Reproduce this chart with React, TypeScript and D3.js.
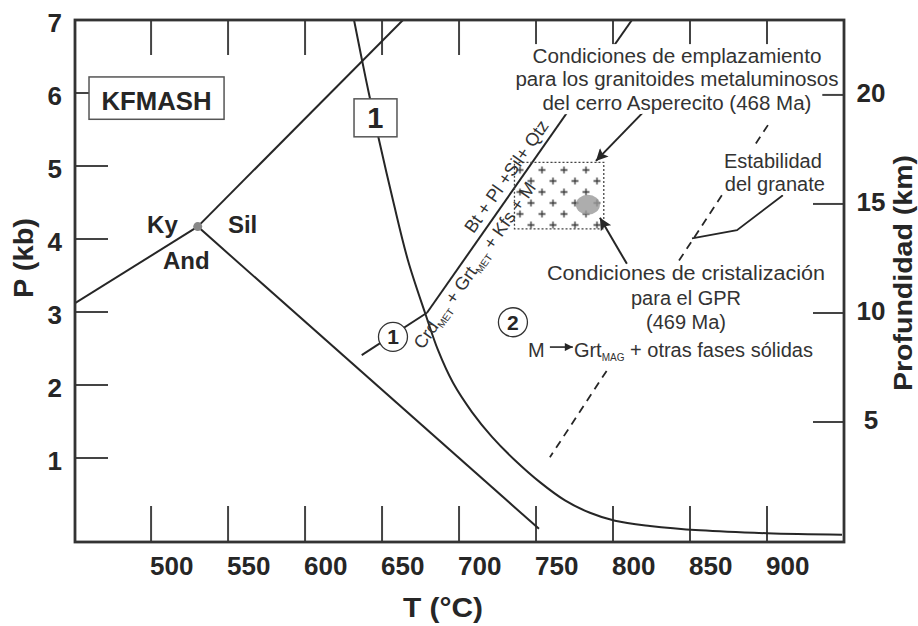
import * as d3 from 'd3';
import * as React from 'react';

// axis ticks
const tempTicks = [500, 550, 600, 650, 700, 750, 800, 850, 900];
const pressureTicks = [1, 2, 3, 4, 5, 6];
const pressureLabels = [1, 2, 3, 4, 5, 6, 7];
const depthTicks = [5, 10, 15, 20];
const kmPerKb = 3.348;

// [T (°C), P (kb)]
const curveOne: [number, number][] = [
  [631.8, 7.0], [639.6, 6.18], [648.0, 5.36], [657.1, 4.53], [666.8, 3.71],
  [677.9, 2.99], [686.3, 2.48], [696.1, 2.03], [708.4, 1.63], [721.4, 1.29],
  [736.3, 0.97], [752.5, 0.67], [768.8, 0.42], [785.0, 0.25], [801.3, 0.14],
  [824.0, 0.07], [856.5, 0.01], [900.0, -0.03], [948.7, -0.05],
];
const triplePoint: [number, number] = [530.3, 4.17];
const kySil: [number, number][] = [triplePoint, [663.6, 7.0]];
const kyAnd: [number, number][] = [[450.6, 3.12], triplePoint];
const andSil: [number, number][] = [triplePoint, [751.9, 0.03]];
const reactionLow: [number, number][] = [[636.8, 2.41], [679.2, 2.99]];
const reactionHigh: [number, number][] = [[679.2, 2.99], [812.3, 7.0]];
const garnetDashed: [number, number][] = [[900.6, 5.56], [759.0, 1.01]];
const garnetSolid: [number, number][] = [[910.3, 4.6], [880.5, 4.12], [851.3, 4.01]];
const emplacementT = [736, 794];
const emplacementP = [4.14, 5.05];
const gprPoint: [number, number] = [783.7, 4.47];

const W = 918;
const H = 626;
const FONT = '"Liberation Sans", Arial, Helvetica, sans-serif';
const INK = '#262626';

const x = d3.scaleLinear().domain([450.6, 950]).range([75, 844]);
const y = d3.scaleLinear().domain([-0.15, 7]).range([542, 20]);
const yKm = d3.scaleLinear().domain([-0.15 * kmPerKb, 7 * kmPerKb]).range([542, 20]);

const line = d3.line<[number, number]>().x(d => x(d[0])).y(d => y(d[1]));
const smooth = d3.line<[number, number]>().x(d => x(d[0])).y(d => y(d[1])).curve(d3.curveCatmullRom.alpha(0.5));

const halo: React.CSSProperties = { paintOrder: 'stroke', stroke: '#fff', strokeWidth: 8, strokeLinejoin: 'round' };

function alongLine(seg: [number, number][], t: number) {
  const x1 = x(seg[0][0]), y1 = y(seg[0][1]), x2 = x(seg[1][0]), y2 = y(seg[1][1]);
  return {
    px: x1 + (x2 - x1) * t,
    py: y1 + (y2 - y1) * t,
    angle: (Math.atan2(y2 - y1, x2 - x1) * 180) / Math.PI,
  };
}

export default function App() {
  const [x0, x1] = x.range();
  const [y0, y1] = y.range();
  const labA = alongLine(reactionHigh, 0.44);
  const labB = alongLine(reactionHigh, 0.185);
  const txt = { fontFamily: FONT, fill: '#333', fontSize: 20 } as const;
  const fit = 'spacingAndGlyphs';

  return (
    <svg width={W} height={H} style={{ position: 'absolute', left: 0, top: 0, background: '#fff' }}>
      <defs>
        <clipPath id="plot">
          <rect x={x0} y={y1} width={x1 - x0} height={y0 - y1} />
        </clipPath>
        <pattern id="plus" patternUnits="userSpaceOnUse" width={22} height={22} x={536.5} y={164.5}>
          <path d="M2,5.5h7M5.5,2v7M13,16.5h7M16.5,13v7" stroke="#333" strokeWidth={1.3} />
        </pattern>
        <marker id="head" viewBox="0 0 10 10" refX={10} refY={5} markerUnits="userSpaceOnUse"
          markerWidth={19} markerHeight={12} orient="auto">
          <path d="M0,0L10,5L0,10L2,5z" fill={INK} />
        </marker>
        <marker id="headSmall" viewBox="0 0 10 10" refX={10} refY={5} markerUnits="userSpaceOnUse"
          markerWidth={11} markerHeight={8} orient="auto">
          <path d="M0,0L10,5L0,10z" fill={INK} />
        </marker>
      </defs>

      {/* ticks */}
      <g stroke="#444" strokeWidth={2}>
        {tempTicks.map(t => (
          <g key={t}>
            <line x1={x(t)} x2={x(t)} y1={y0} y2={y0 - 36} />
            <line x1={x(t)} x2={x(t)} y1={y1} y2={y1 + 35} />
          </g>
        ))}
        {pressureTicks.map(p => (
          <line key={p} x1={x0} x2={x0 + 33} y1={y(p)} y2={y(p)} />
        ))}
        {depthTicks.map(k => (
          <line key={k} x1={x1} x2={x1 - 31} y1={yKm(k)} y2={yKm(k)} />
        ))}
      </g>

      {/* phase boundaries */}
      <g clipPath="url(#plot)" fill="none" stroke={INK} strokeWidth={2}>
        <path d={line(kySil)!} />
        <path d={line(kyAnd)!} />
        <path d={line(andSil)!} />
        <path d={smooth(curveOne)!} />
        <path d={line(reactionLow)!} />
        <path d={line(reactionHigh)!} />
        <path d={line(garnetDashed)!} strokeDasharray="8,6" strokeWidth={1.8} />
        <path d={line(garnetSolid)!} strokeWidth={1.8} />
      </g>

      {/* white areas behind the annotation blocks */}
      <g fill="#fff">
        <rect x={x(736.3)} y={y(6.67)} width={x(935.9) - x(736.3)} height={y(5.71) - y(6.67)} />
        <rect x={x(869.4)} y={y(5.26)} width={x(939.6) - x(869.4)} height={y(4.62) - y(5.26)} />
        <rect x={x(785)} y={y(3.68)} width={x(856.4) - x(785)} height={y(2.21) - y(3.68)} />
      </g>

      {/* emplacement conditions */}
      <rect x={x(emplacementT[0])} y={y(emplacementP[1])}
        width={x(emplacementT[1]) - x(emplacementT[0])} height={y(emplacementP[0]) - y(emplacementP[1])}
        fill="url(#plus)" stroke="#444" strokeWidth={1.3} strokeDasharray="2,2" />
      <ellipse cx={x(gprPoint[0])} cy={y(gprPoint[1])} rx={12} ry={10} fill="#999" opacity={0.8} />
      <circle cx={x(triplePoint[0])} cy={y(triplePoint[1])} r={4.5} fill="#888" />

      {/* arrows */}
      <g stroke={INK} strokeWidth={2}>
        <line x1={x(822)} y1={y(5.79)} x2={x(788.9)} y2={y(5.07)} markerEnd="url(#head)" />
        <line x1={x(809)} y1={y(3.66)} x2={x(791.5)} y2={y(4.29)} markerEnd="url(#head)" />
        <line x1={x(759)} y1={y(2.52)} x2={x(773.9)} y2={y(2.52)} strokeWidth={1.6} markerEnd="url(#headSmall)" />
      </g>

      {/* reaction labels along the line */}
      <g transform={`translate(${labA.px},${labA.py}) rotate(${labA.angle})`}>
        <text y={-7} textAnchor="middle" {...txt} fontSize={18}>Bt + Pl +Sil+ Qtz</text>
      </g>
      <g transform={`translate(${labB.px},${labB.py}) rotate(${labB.angle})`}>
        <text y={18} textAnchor="middle" {...txt} fontSize={18}>
          Crd<tspan fontSize={10} dy={4}>MET</tspan>
          <tspan dy={-4}> + Grt</tspan><tspan fontSize={10} dy={4}>MET</tspan>
          <tspan dy={-4}> + Kfs + M</tspan>
        </text>
      </g>

      {/* numbered fields */}
      {[
        { n: '1', t: 657.1, p: 2.66 },
        { n: '2', t: 735.0, p: 2.86 },
      ].map(c => (
        <g key={c.n}>
          <circle cx={x(c.t)} cy={y(c.p)} r={14.5} fill="#fff" stroke="#333" strokeWidth={1.3} />
          <text x={x(c.t)} y={y(c.p) + 7.5} textAnchor="middle" fontFamily={FONT} fontWeight="bold"
            fontSize={21} fill={INK}>{c.n}</text>
        </g>
      ))}
      <rect x={x(631.8)} y={y(5.92)} width={x(659.7) - x(631.8)} height={y(5.4) - y(5.92)}
        fill="#fff" stroke="#555" strokeWidth={1.5} />
      <text x={x(645.7)} y={y(5.52)} textAnchor="middle" fontFamily={FONT} fontWeight="bold"
        fontSize={29} fill={INK}>1</text>

      <rect x={x(459.7)} y={y(6.22)} width={x(547.4) - x(459.7)} height={y(5.64) - y(6.22)}
        fill="#fff" stroke="#555" strokeWidth={1.5} />
      <text x={x(503.5)} y={y(5.77)} textAnchor="middle" fontFamily={FONT} fontWeight="bold"
        fontSize={25} textLength={110} lengthAdjust={fit} fill={INK}>KFMASH</text>

      <g fontFamily={FONT} fontWeight="bold" fontSize={24} fill={INK}>
        <text x={x(497.4)} y={y(4.08)}>Ky</text>
        <text x={x(549.9)} y={y(4.08)}>Sil</text>
        <text x={x(507.7)} y={y(3.59)}>And</text>
      </g>

      {/* text blocks */}
      <g {...txt} textAnchor="middle" style={halo}>
        <text x={x(841.5)} y={y(6.41)} textLength={289} lengthAdjust={fit}>Condiciones de emplazamiento</text>
        <text x={x(841.5)} y={y(6.1)} textLength={323} lengthAdjust={fit}>para los granitoides metaluminosos</text>
        <text x={x(841.5)} y={y(5.77)} textLength={269} lengthAdjust={fit}>del cerro Asperecito (468 Ma)</text>
        <text x={x(903.8)} y={y(4.97)}>Estabilidad</text>
        <text x={x(905.1)} y={y(4.66)}>del granate</text>
        <text x={x(847.4)} y={y(3.44)} textLength={278} lengthAdjust={fit}>Condiciones de cristalización</text>
        <text x={x(847.4)} y={y(3.1)}>para el GPR</text>
        <text x={x(847.4)} y={y(2.77)}>(469 Ma)</text>
      </g>
      <g {...txt}>
        <text x={x(744.8)} y={y(2.38)}>M</text>
        <text x={x(774.6)} y={y(2.38)}>
          Grt<tspan fontSize={10} dy={4}>MAG</tspan>
          <tspan dy={-4}>{'  +  otras fases sólidas'}</tspan>
        </text>
      </g>

      {/* frame */}
      <rect x={x0} y={y1} width={x1 - x0} height={y0 - y1} fill="none" stroke="#333" strokeWidth={2.8} />

      {/* tick labels */}
      <g fontFamily={FONT} fontWeight="bold" fontSize={26} fill={INK}>
        {tempTicks.map(t => (
          <text key={t} x={x(t) - 1} y={575}>{t}</text>
        ))}
        {pressureLabels.map(p => (
          <text key={p} x={62} y={y(p) + 12} textAnchor="end">{p}</text>
        ))}
        {depthTicks.map(k => (
          <text key={k} x={x1 + 27} y={yKm(k) + 7} textAnchor="middle">{k}</text>
        ))}
      </g>

      {/* axis titles */}
      <g fontFamily={FONT} fontWeight="bold" fill={INK}>
        <text x={443} y={617} textAnchor="middle" fontSize={27} textLength={80} lengthAdjust={fit}>T (°C)</text>
        <text transform="translate(33,258) rotate(-90)" textAnchor="middle" fontSize={28} textLength={80} lengthAdjust={fit}>P (kb)</text>
        <text transform="translate(912,273) rotate(-90)" textAnchor="middle" fontSize={25} textLength={236} lengthAdjust={fit}>Profundidad (km)</text>
      </g>
    </svg>
  );
}
